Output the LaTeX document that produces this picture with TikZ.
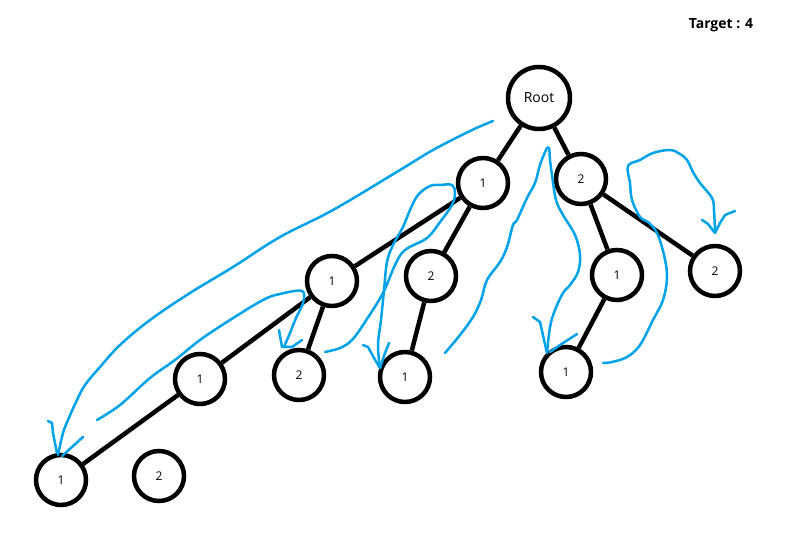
\documentclass[tikz,border=0pt]{standalone}
\usepackage{fontspec}
\setmainfont{Open Sans}
\definecolor{penblue}{RGB}{0,162,232}
\tikzset{
vertex/.style={draw, circle, line width=4.5pt, minimum size=50pt, inner sep=0pt, font=\fontsize{12}{14}\selectfont},
edge/.style={line width=4.5pt},
pen/.style={penblue, line width=2.5pt, line cap=round, line join=round},
}
\begin{document}
\begin{tikzpicture}[x=1pt,y=-1pt]
\useasboundingbox (0,0) rectangle (792,534);
\node[font=\fontsize{14}{16}\selectfont\bfseries] (target) at (721,25) {Target : 4};
\node[vertex, minimum size=62pt, font=\fontsize{14}{16}\selectfont] (root) at (539,98) {Root};
\node[vertex] (A) at (483,183) {1};
\node[vertex] (B) at (581,179) {2};
\node[vertex] (AA) at (332,281) {1};
\node[vertex] (AB) at (431,276) {2};
\node[vertex] (BA) at (617,275) {1};
\node[vertex] (BB) at (715,271) {2};
\node[vertex] (AAA) at (200,379) {1};
\node[vertex] (AAB) at (299,375) {2};
\node[vertex] (ABA) at (405,377) {1};
\node[vertex] (BAA) at (566,372) {1};
\node[vertex] (AAAA) at (61,480) {1};
\node[vertex] (AAAB) at (159,476) {2};
\draw [edge] (root) -- (A);
\draw [edge] (root) -- (B);
\draw [edge] (A) -- (AA);
\draw [edge] (A) -- (AB);
\draw [edge] (AA) -- (AAA);
\draw [edge] (AA) -- (AAB);
\draw [edge] (AB) -- (ABA);
\draw [edge] (B) -- (BA);
\draw [edge] (B) -- (BB);
\draw [edge] (BA) -- (BAA);
\draw [edge] (AAA) -- (AAAA);
\draw [pen] plot[smooth, tension=0.6] coordinates {(493,121) (470,131) (433,150) (400,170) (333,210) (280,237) (233,267) (190,293) (150,320) (120,345) (100,367) (85,385) (77,400) (68,420) (63,433) (58,455)};
\draw [pen] (48,421) -- (52,423) -- (53,433) -- (57,453);
\draw [pen] (83,437) -- (72,447) -- (62,456);
\draw [pen] plot[smooth, tension=0.6] coordinates {(97,420) (120,405) (150,378) (175,360) (200,340) (230,320) (263,300) (280,294) (302,291) (303,303) (296,318) (290,333) (284,347)};
\draw [pen] (279,330) -- (282,347) -- (292,347) -- (302,340);
\draw [pen] plot[smooth, tension=0.6] coordinates {(325,352) (340,348) (352,340) (365,322) (383,293) (395,265) (405,250) (427,238) (440,222) (452,205) (455,193) (452,185) (440,185) (430,186) (418,195) (410,210) (403,227) (393,245) (387,262) (384,290) (381,320) (378,345) (380,368)};
\draw [pen] (363,345) -- (368,347) -- (374,358) -- (380,368);
\draw [pen] (389,343) -- (385,353) -- (380,368);
\draw [pen] plot[smooth, tension=0.6] coordinates {(445,353) (460,335) (473,317) (481,300) (487,280) (500,262) (507,247) (513,225) (517,220) (527,198) (535,183) (540,165) (546,150) (549,148) (550,160) (552,175) (556,200) (563,215) (575,235) (580,255) (578,272) (570,285) (563,293) (555,310) (550,327) (547,353)};
\draw [pen] (533,317) -- (540,322) -- (547,353);
\draw [pen] (577,334) -- (560,345) -- (550,352);
\draw [pen] plot[smooth, tension=0.6] coordinates {(603,363) (612,362) (627,357) (640,345) (653,320) (663,300) (667,277) (664,255) (657,233) (648,222) (640,217) (632,200) (630,183) (628,166) (640,160) (653,153) (670,150) (680,154) (687,160) (693,172) (700,183) (712,198) (714,210) (715,233)};
\draw [pen] (702,220) -- (708,224) -- (715,233);
\draw [pen] (735,211) -- (725,215) -- (720,223) -- (715,233);
\end{tikzpicture}
\end{document}
